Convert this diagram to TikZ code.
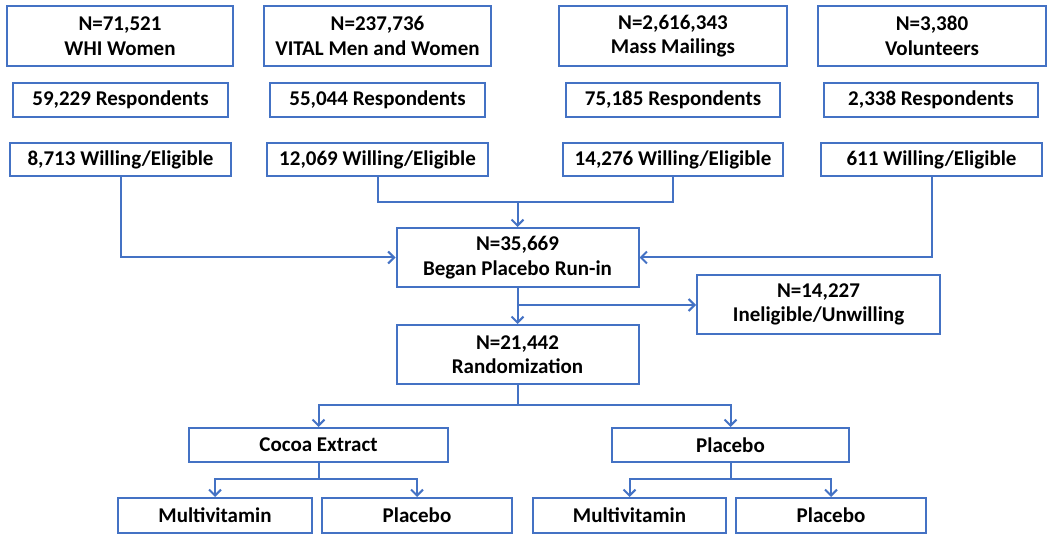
\documentclass[tikz,border=0pt]{standalone}
\usepackage{fontspec}
\setmainfont{Carlito}
\usetikzlibrary{arrows.meta}
\definecolor{lineblue}{HTML}{4472C4}
\begin{document}
\begin{tikzpicture}[x=1pt,y=-1pt,
  box/.style={draw=lineblue,line width=2pt,fill=white,inner sep=0pt,align=center,
    font=\fontsize{21}{24.5}\selectfont\bfseries},
  conn/.style={draw=lineblue,line width=2pt},
  arr/.style={conn,-{Straight Barb[length=6pt,width=12pt,line width=2pt]}}]
\useasboundingbox (0,0) rectangle (1050,540);
% row 1
\node[box,minimum width=226pt,minimum height=60pt] (s1) at (120,36) {N=71,521\\WHI Women};
\node[box,minimum width=227pt,minimum height=60pt] (s2) at (377.5,36) {N=237,736\\VITAL Men and Women};
\node[box,minimum width=228pt,minimum height=60pt] (s3) at (673,36) {N=2,616,343\\Mass Mailings};
\node[box,minimum width=228pt,minimum height=60pt] (s4) at (932,36) {N=3,380\\Volunteers};
% row 2
\node[box,minimum width=215pt,minimum height=34pt] (r1) at (120.5,100) {59,229 Respondents};
\node[box,minimum width=215pt,minimum height=34pt] (r2) at (377.5,100) {55,044 Respondents};
\node[box,minimum width=214pt,minimum height=34pt] (r3) at (673,100) {75,185 Respondents};
\node[box,minimum width=214pt,minimum height=34pt] (r4) at (931,100) {2,338 Respondents};
% row 3
\node[box,minimum width=221pt,minimum height=33pt] (w1) at (120.5,159.5) {8,713 Willing/Eligible};
\node[box,minimum width=221pt,minimum height=33pt] (w2) at (377.5,159.5) {12,069 Willing/Eligible};
\node[box,minimum width=220pt,minimum height=33pt] (w3) at (673,159.5) {14,276 Willing/Eligible};
\node[box,minimum width=221pt,minimum height=33pt] (w4) at (931.5,159.5) {611 Willing/Eligible};
% middle
\node[box,minimum width=242pt,minimum height=59pt] (begin) at (517.5,257.5) {N=35,669\\Began Placebo Run-in};
\node[box,minimum width=243pt,minimum height=59pt] (inel) at (818.5,304.5) {N=14,227\\Ineligible/Unwilling};
\node[box,minimum width=242pt,minimum height=59pt] (rand) at (517.5,354.5) {N=21,442\\Randomization};
% arms
\node[box,minimum width=259pt,minimum height=34pt] (cocoa) at (318.5,445) {Cocoa Extract};
\node[box,minimum width=237pt,minimum height=34pt] (plac) at (730.5,445) {Placebo};
\node[box,minimum width=194pt,minimum height=35pt] (mv1) at (215,515.5) {Multivitamin};
\node[box,minimum width=190pt,minimum height=35pt] (p1) at (417,515.5) {Placebo};
\node[box,minimum width=193pt,minimum height=35pt] (mv2) at (629.5,515.5) {Multivitamin};
\node[box,minimum width=190pt,minimum height=35pt] (p2) at (831,515.5) {Placebo};
% connectors
\coordinate (j1) at (begin.north |- 0,202);
\coordinate (j2) at (begin.south |- 0,305);
\coordinate (j3) at (rand.south |- 0,405);
\coordinate (j4) at (cocoa.south |- 0,479);
\coordinate (j5) at (plac.south |- 0,479);
\draw[arr] (w1.south) |- (begin.west);
\draw[arr] (w4.south) |- (begin.east);
\draw[conn] (w2.south) |- (j1);
\draw[conn] (w3.south) |- (j1);
\draw[arr] (j1) -- (begin.north);
\draw[arr] (begin.south) -- (rand.north);
\draw[arr] (j2) -- (j2 -| inel.west);
\draw[conn] (rand.south) -- (j3);
\draw[arr] (j3) -| (cocoa.north);
\draw[arr] (j3) -| (plac.north);
\draw[conn] (cocoa.south) -- (j4);
\draw[arr] (j4) -| (mv1.north);
\draw[arr] (j4) -| (p1.north);
\draw[conn] (plac.south) -- (j5);
\draw[arr] (j5) -| (mv2.north);
\draw[arr] (j5) -| (p2.north);
\end{tikzpicture}
\end{document}
